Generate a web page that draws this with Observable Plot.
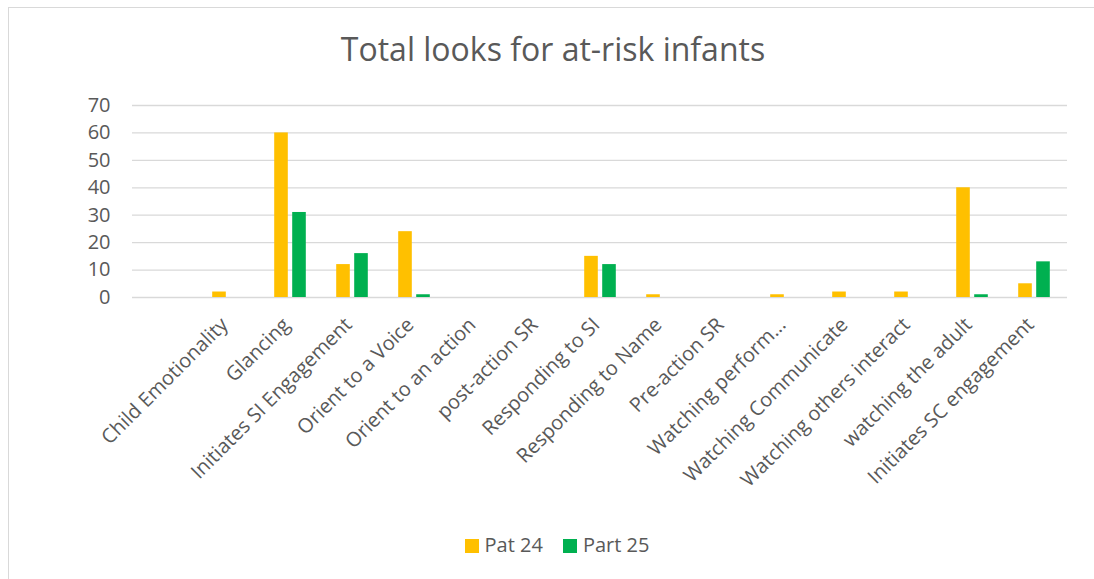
<!DOCTYPE html>
<html>
<head>
<meta charset="utf-8">
<script src="https://cdn.jsdelivr.net/npm/d3@7"></script>
<script src="https://cdn.jsdelivr.net/npm/@observablehq/plot@0.6"></script>
<style>
  html, body { margin: 0; padding: 0; background: #fff; }
  body { width: 1094px; height: 579px; position: relative; overflow: hidden; font-family: "Open Sans", sans-serif; }
  #frame { position: absolute; left: 8px; top: 7px; width: 1100px; height: 600px; border-left: 1px solid #d9d9d9; border-top: 1px solid #d9d9d9; box-sizing: border-box; }
  #title { position: absolute; left: 0; top: 29px; width: 1106px; text-align: center; font-size: 32px; color: #595959; line-height: 40px; }
  #chart { position: absolute; left: 0; top: 90px; }
  #legend { position: absolute; left: 0; top: 533px; width: 1114px; display: flex; justify-content: center; gap: 20px; font-size: 20px; color: #595959; line-height: 24px; }
  .sw { display: inline-block; width: 14px; height: 14px; margin-right: 6px; vertical-align: -1px; }
</style>
</head>
<body>
<div id="frame"></div>
<div id="title">Total looks for at-risk infants</div>
<div id="chart"></div>
<div id="legend"></div>
<script>
// Categories (first is an empty category slot, as in the source chart)
const categories = [
  " ",
  "Child Emotionality",
  "Glancing",
  "Initiates SI Engagement",
  "Orient to a Voice",
  "Orient to an action",
  "post-action SR",
  "Responding to SI",
  "Responding to Name",
  "Pre-action SR",
  "Watching perform...",
  "Watching Communicate",
  "Watching others interact",
  "watching the adult",
  "Initiates SC engagement"
];
const seriesNames = ["Pat 24", "Part 25"];
const pat24  = [0, 2, 60, 12, 24, 0, 0, 15, 1, 0, 1, 2, 2, 40, 5];
const part25 = [0, 0, 31, 16, 1, 0, 0, 12, 0, 0, 0, 0, 0, 1, 13];
const yTicks = [0, 10, 20, 30, 40, 50, 60, 70];
const colors = ["#FFC000", "#00B050"];

const rows24 = categories.map((c, i) => ({category: c, value: pat24[i], series: seriesNames[0]}));
const rows25 = categories.map((c, i) => ({category: c, value: part25[i], series: seriesNames[1]}));

const chart = Plot.plot({
  width: 1094,
  height: 420,
  marginLeft: 132,
  marginRight: 27,
  marginTop: 15,
  marginBottom: 213,
  style: {color: "#595959", fontFamily: "Open Sans, sans-serif", background: "transparent"},
  x: {domain: categories, padding: 0, axis: null, label: null},
  y: {domain: [0, 70], axis: null, label: null},
  marks: [
    Plot.gridY(yTicks, {stroke: "#d9d9d9", strokeOpacity: 1, strokeWidth: 1.3}),
    Plot.axisY({ticks: yTicks, tickSize: 0, tickPadding: 22, fontSize: 20, fill: "#595959", label: null}),
    Plot.axisX({tickRotate: -45, tickSize: 0, tickPadding: 24, dx: -4, fontSize: 20, fill: "#595959", label: null}),
    Plot.barY(rows24, {x: "category", y: "value", fill: colors[0], insetLeft: 24.2, insetRight: 24.2, dx: -9}),
    Plot.barY(rows25, {x: "category", y: "value", fill: colors[1], insetLeft: 24.2, insetRight: 24.2, dx: 9})
  ]
});
document.getElementById("chart").appendChild(chart);

const legend = document.getElementById("legend");
seriesNames.forEach((name, i) => {
  const item = document.createElement("span");
  const sw = document.createElement("span");
  sw.className = "sw";
  sw.style.background = colors[i];
  item.appendChild(sw);
  item.appendChild(document.createTextNode(name));
  legend.appendChild(item);
});
</script>
</body>
</html>
